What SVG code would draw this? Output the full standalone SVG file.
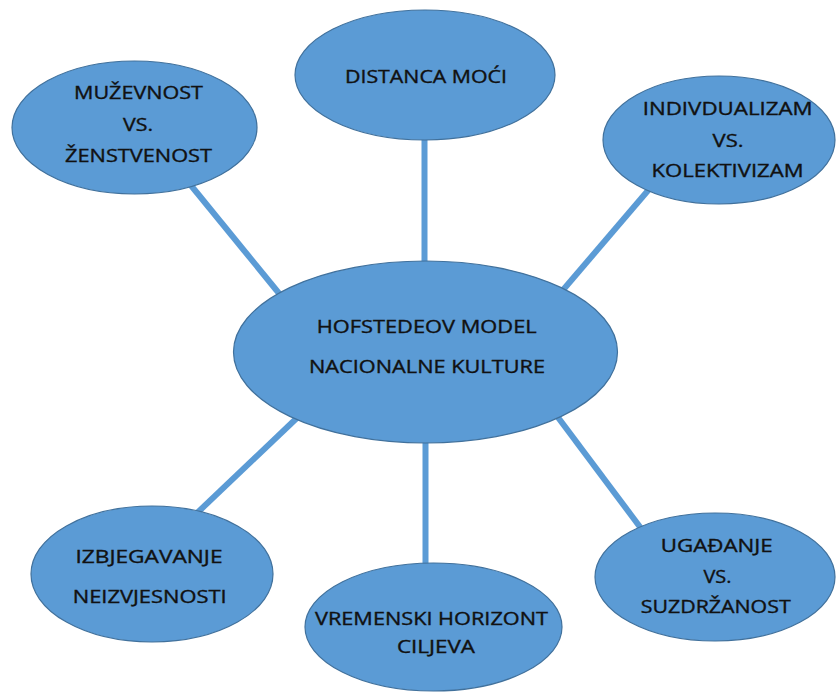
<svg xmlns="http://www.w3.org/2000/svg" width="836" height="692" viewBox="0 0 836 692">
<style>
.node ellipse{fill:#5b9bd5;stroke:#41719c;stroke-width:1.2}
.node text{font-family:"Open Sans","Liberation Sans",sans-serif;font-size:17.5px;fill:#111;stroke:#111;stroke-width:0.35;text-anchor:middle}
#connectors line{stroke:#5b9bd5;stroke-width:6;stroke-linecap:butt}
</style>
<rect width="836" height="692" fill="#ffffff"/>
<g id="connectors">
<line x1="424.5" y1="136" x2="424.5" y2="266"/>
<line x1="425.5" y1="438" x2="425.5" y2="570"/>
<line x1="189" y1="183" x2="282" y2="297"/>
<line x1="651" y1="187" x2="563" y2="290"/>
<line x1="299" y1="416" x2="196" y2="514"/>
<line x1="557" y1="416" x2="643" y2="531"/>
</g>
<g id="center" class="node">
<ellipse cx="425.5" cy="352" rx="192" ry="91"/>
<text x="426.7" y="333.3" textLength="220" lengthAdjust="spacingAndGlyphs">HOFSTEDEOV MODEL</text>
<text x="427" y="373.3" textLength="236" lengthAdjust="spacingAndGlyphs">NACIONALNE KULTURE</text>
</g>
<g id="distanca" class="node">
<ellipse cx="425" cy="75" rx="130" ry="65"/>
<text x="426" y="83" textLength="162" lengthAdjust="spacingAndGlyphs">DISTANCA MOĆI</text>
</g>
<g id="muzevnost" class="node">
<ellipse cx="134.5" cy="127.5" rx="122.5" ry="66.5"/>
<text x="138.5" y="99" textLength="129" lengthAdjust="spacingAndGlyphs">MUŽEVNOST</text>
<text x="138" y="131" textLength="30" lengthAdjust="spacingAndGlyphs">VS.</text>
<text x="138.5" y="162" textLength="147" lengthAdjust="spacingAndGlyphs">ŽENSTVENOST</text>
</g>
<g id="individualizam" class="node">
<ellipse cx="719" cy="140" rx="116" ry="64"/>
<text x="727.7" y="115" textLength="170" lengthAdjust="spacingAndGlyphs">INDIVDUALIZAM</text>
<text x="728" y="146.7" textLength="31" lengthAdjust="spacingAndGlyphs">VS.</text>
<text x="727.5" y="176.7" textLength="152" lengthAdjust="spacingAndGlyphs">KOLEKTIVIZAM</text>
</g>
<g id="izbjegavanje" class="node">
<ellipse cx="152" cy="574" rx="121" ry="68"/>
<text x="149" y="562.7" textLength="147" lengthAdjust="spacingAndGlyphs">IZBJEGAVANJE</text>
<text x="149.7" y="603.3" textLength="154" lengthAdjust="spacingAndGlyphs">NEIZVJESNOSTI</text>
</g>
<g id="vremenski" class="node">
<ellipse cx="433.5" cy="627" rx="128.5" ry="64"/>
<text x="431.5" y="625" textLength="233" lengthAdjust="spacingAndGlyphs">VREMENSKI HORIZONT</text>
<text x="436" y="653" textLength="78" lengthAdjust="spacingAndGlyphs">CILJEVA</text>
</g>
<g id="ugadanje" class="node">
<ellipse cx="715" cy="577" rx="120" ry="64"/>
<text x="716.7" y="551.7" textLength="112" lengthAdjust="spacingAndGlyphs">UGAĐANJE</text>
<text x="717.5" y="582.7" textLength="28" lengthAdjust="spacingAndGlyphs">VS.</text>
<text x="715.7" y="612.7" textLength="150" lengthAdjust="spacingAndGlyphs">SUZDRŽANOST</text>
</g>
</svg>
